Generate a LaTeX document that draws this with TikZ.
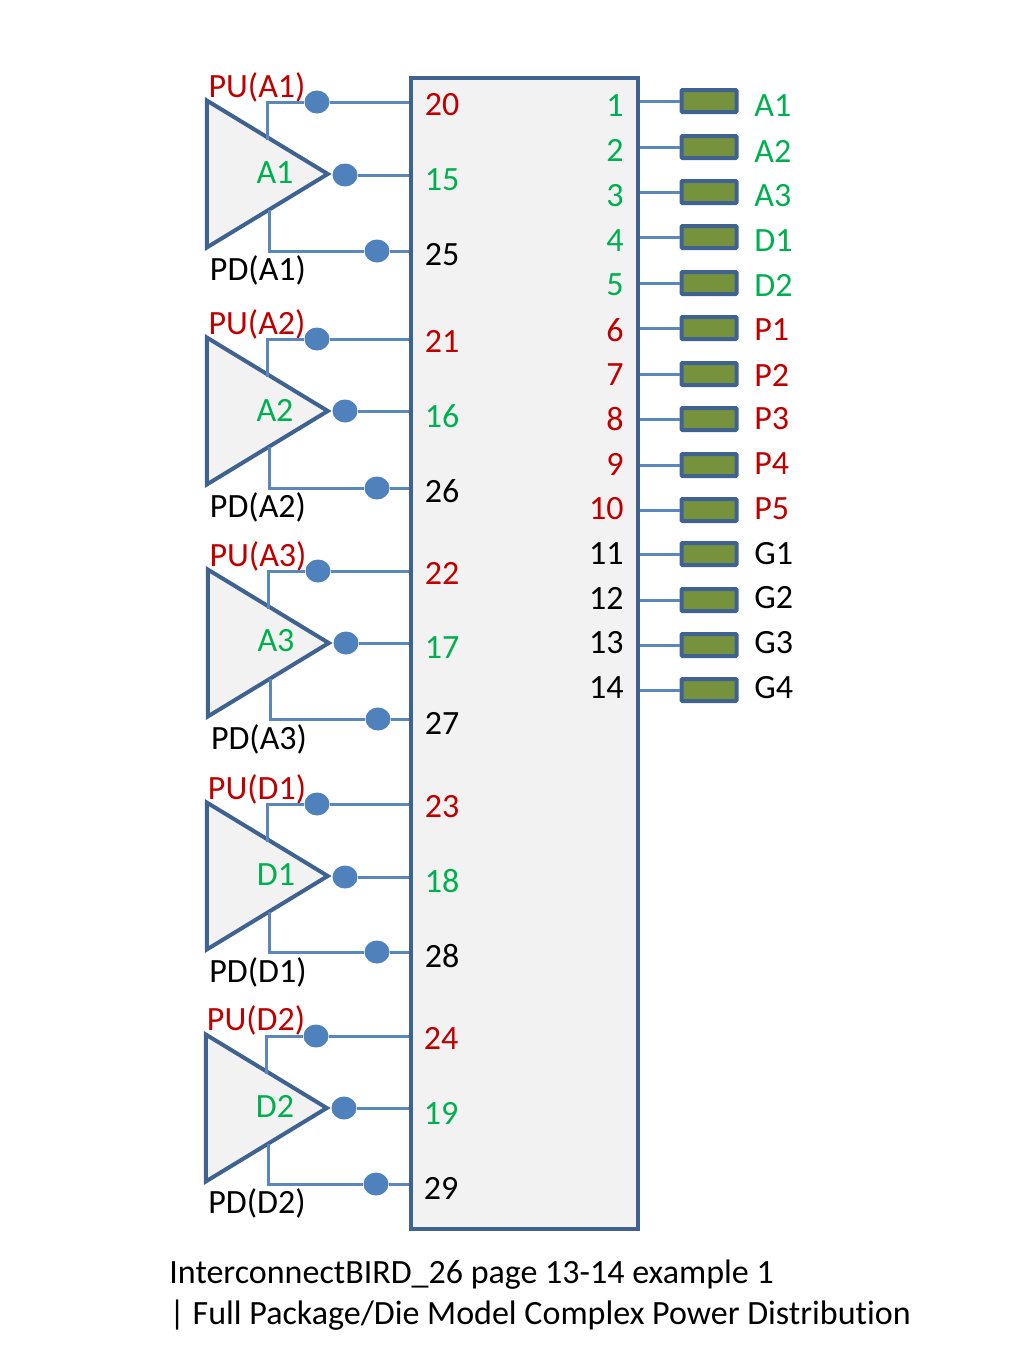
\documentclass[tikz,border=0pt]{standalone}
\usepackage{fontspec}
\setmainfont{Carlito}[Ligatures=NoCommon]
\usetikzlibrary{shapes.geometric}
\definecolor{pingreen}{HTML}{00B050}
\definecolor{pinred}{HTML}{C00000}
\definecolor{wireblue}{HTML}{5B87BD}
\definecolor{edgeblue}{HTML}{3F6291}
\definecolor{dotblue}{HTML}{4F81BD}
\definecolor{padgreen}{HTML}{76923C}
\definecolor{bodygray}{HTML}{F2F2F2}
\tikzset{
  chipbody/.style={draw=edgeblue,fill=bodygray,line width=1.8pt,minimum width=113.5pt,minimum height=575.5pt,inner sep=0pt},
  buffer/.style={isosceles triangle,isosceles triangle stretches,draw=edgeblue,fill=bodygray,line width=2pt,minimum height=60.5pt,minimum width=73.5pt,inner sep=0pt,anchor=apex},
  wire/.style={draw=wireblue,line width=1.5pt},
  tap/.style={ellipse,fill=dotblue,minimum width=12.5pt,minimum height=11.5pt,inner sep=0pt},
  pad/.style={draw=edgeblue,fill=padgreen,line width=2pt,rounded corners=0.5pt,minimum width=27.5pt,minimum height=11pt,inner sep=0pt},
  txt/.style={font=\fontsize{17}{20}\selectfont,inner sep=0pt},
  grn/.style={txt,text=pingreen},
  rd/.style={txt,text=pinred},
  blk/.style={txt,text=black},
}
\begin{document}
\begin{tikzpicture}[x=0.5pt,y=-0.5pt]
\useasboundingbox (0,0) rectangle (1024,1365);
\node[chipbody] (chip) at (524.5,653.5) {};

% wires
\node[tap] (t20) at (317,102) {};
\node[tap] (t15) at (345,175) {};
\node[tap] (t25) at (377,251) {};
\node[tap] (t21) at (317,339) {};
\node[tap] (t16) at (345,411) {};
\node[tap] (t26) at (377,488) {};
\node[tap] (t22) at (318,571) {};
\node[tap] (t17) at (346,643) {};
\node[tap] (t27) at (378,719) {};
\node[tap] (t23) at (317,804) {};
\node[tap] (t18) at (345,877) {};
\node[tap] (t28) at (377,952) {};
\node[tap] (t24) at (316,1036) {};
\node[tap] (t19) at (344,1108) {};
\node[tap] (t29) at (376,1184) {};

% buffers
\node[buffer] (bA1) at (333,174) {};
\node[buffer] (bA2) at (333,411) {};
\node[buffer] (bA3) at (334,643) {};
\node[buffer] (bD1) at (333,876) {};
\node[buffer] (bD2) at (332,1108) {};
\node[grn] (lA1) at (275,173) {A1};
\node[grn] (lA2) at (275,410) {A2};
\node[grn] (lA3) at (276,641) {A3};
\node[grn] (lD1) at (276,875) {D1};
\node[grn] (lD2) at (275,1106) {D2};
\node[rd] (puA1) at (257,87) {PU(A1)};
\node[rd] (puA2) at (257,324) {PU(A2)};
\node[rd] (puA3) at (258,556) {PU(A3)};
\node[rd] (puD1) at (257,789) {PU(D1)};
\node[rd] (puD2) at (256,1020) {PU(D2)};
\node[blk] (pdA1) at (258,270) {PD(A1)};
\node[blk] (pdA2) at (258,507) {PD(A2)};
\node[blk] (pdA3) at (259,739) {PD(A3)};
\node[blk] (pdD1) at (258,972) {PD(D1)};
\node[blk] (pdD2) at (257,1203) {PD(D2)};

\coordinate (uA1) at (267,140);
\coordinate (uA2) at (267,377);
\coordinate (uA3) at (268,609);
\coordinate (uD1) at (267,842);
\coordinate (uD2) at (266,1074);
\coordinate (dA1) at (269,210);
\coordinate (dA2) at (269,447);
\coordinate (dA3) at (270,679);
\coordinate (dD1) at (269,912);
\coordinate (dD2) at (268,1144);

% left pin numbers
\node[rd] (n20) at (442,105) {20};
\node[grn] (n15) at (442,180) {15};
\node[blk] (n25) at (442,255) {25};
\node[rd] (n21) at (442,341) {21};
\node[grn] (n16) at (442,416) {16};
\node[blk] (n26) at (442,491) {26};
\node[rd] (n22) at (442,573) {22};
\node[grn] (n17) at (442,648) {17};
\node[blk] (n27) at (442,723) {27};
\node[rd] (n23) at (442,807) {23};
\node[grn] (n18) at (442,881) {18};
\node[blk] (n28) at (442,956) {28};
\node[rd] (n24) at (441,1038) {24};
\node[grn] (n19) at (441,1113) {19};
\node[blk] (n29) at (441,1188) {29};

% right pin numbers
\node[grn,anchor=east] (n1) at (624,106) {1};
\node[grn,anchor=east] (n2) at (624,150) {2};
\node[grn,anchor=east] (n3) at (624,196) {3};
\node[grn,anchor=east] (n4) at (624,241) {4};
\node[grn,anchor=east] (n5) at (624,285) {5};
\node[rd,anchor=east] (n6) at (624,330) {6};
\node[rd,anchor=east] (n7) at (624,375) {7};
\node[rd,anchor=east] (n8) at (624,419) {8};
\node[rd,anchor=east] (n9) at (624,464) {9};
\node[rd,anchor=east] (n10) at (624,509) {10};
\node[blk,anchor=east] (n11) at (624,554) {11};
\node[blk,anchor=east] (n12) at (624,598) {12};
\node[blk,anchor=east] (n13) at (624,643) {13};
\node[blk,anchor=east] (n14) at (624,688) {14};

% pads
\node[pad] (p1) at (709,101) {};
\node[pad] (p2) at (709,147) {};
\node[pad] (p3) at (709,192) {};
\node[pad] (p4) at (709,237) {};
\node[pad] (p5) at (709,283) {};
\node[pad] (p6) at (709,328) {};
\node[pad] (p7) at (709,374) {};
\node[pad] (p8) at (709,419) {};
\node[pad] (p9) at (709,465) {};
\node[pad] (p10) at (709,510) {};
\node[pad] (p11) at (709,554) {};
\node[pad] (p12) at (709,600) {};
\node[pad] (p13) at (709,645) {};
\node[pad] (p14) at (709,690) {};

\node[grn,anchor=west] (s1) at (754,106) {A1};
\node[grn,anchor=west] (s2) at (754,151) {A2};
\node[grn,anchor=west] (s3) at (754,196) {A3};
\node[grn,anchor=west] (s4) at (754,241) {D1};
\node[grn,anchor=west] (s5) at (754,285) {D2};
\node[rd,anchor=west] (s6) at (754,330) {P1};
\node[rd,anchor=west] (s7) at (754,375) {P2};
\node[rd,anchor=west] (s8) at (754,419) {P3};
\node[rd,anchor=west] (s9) at (754,464) {P4};
\node[rd,anchor=west] (s10) at (754,509) {P5};
\node[blk,anchor=west] (s11) at (754,554) {G1};
\node[blk,anchor=west] (s12) at (754,598) {G2};
\node[blk,anchor=west] (s13) at (754,643) {G3};
\node[blk,anchor=west] (s14) at (754,688) {G4};

% connectors
\path [wire] (uA1) |- (t20) -- (t20 -| chip.west);
\path [wire] (t15) -- (t15 -| chip.west);
\path [wire] (dA1) |- (t25) -- (t25 -| chip.west);
\path [wire] (uA2) |- (t21) -- (t21 -| chip.west);
\path [wire] (t16) -- (t16 -| chip.west);
\path [wire] (dA2) |- (t26) -- (t26 -| chip.west);
\path [wire] (uA3) |- (t22) -- (t22 -| chip.west);
\path [wire] (t17) -- (t17 -| chip.west);
\path [wire] (dA3) |- (t27) -- (t27 -| chip.west);
\path [wire] (uD1) |- (t23) -- (t23 -| chip.west);
\path [wire] (t18) -- (t18 -| chip.west);
\path [wire] (dD1) |- (t28) -- (t28 -| chip.west);
\path [wire] (uD2) |- (t24) -- (t24 -| chip.west);
\path [wire] (t19) -- (t19 -| chip.west);
\path [wire] (dD2) |- (t29) -- (t29 -| chip.west);

\path [wire] (chip.east |- p1) -- (p1);
\path [wire] (chip.east |- p2) -- (p2);
\path [wire] (chip.east |- p3) -- (p3);
\path [wire] (chip.east |- p4) -- (p4);
\path [wire] (chip.east |- p5) -- (p5);
\path [wire] (chip.east |- p6) -- (p6);
\path [wire] (chip.east |- p7) -- (p7);
\path [wire] (chip.east |- p8) -- (p8);
\path [wire] (chip.east |- p9) -- (p9);
\path [wire] (chip.east |- p10) -- (p10);
\path [wire] (chip.east |- p11) -- (p11);
\path [wire] (chip.east |- p12) -- (p12);
\path [wire] (chip.east |- p13) -- (p13);
\path [wire] (chip.east |- p14) -- (p14);

% caption
\node[blk,anchor=west] (cap1) at (169,1275) {InterconnectBIRD\_26 page 13-14 example 1};
\node[blk,anchor=west] (cap2) at (169,1315) {| Full Package/Die Model Complex Power Distribution};
\end{tikzpicture}
\end{document}
